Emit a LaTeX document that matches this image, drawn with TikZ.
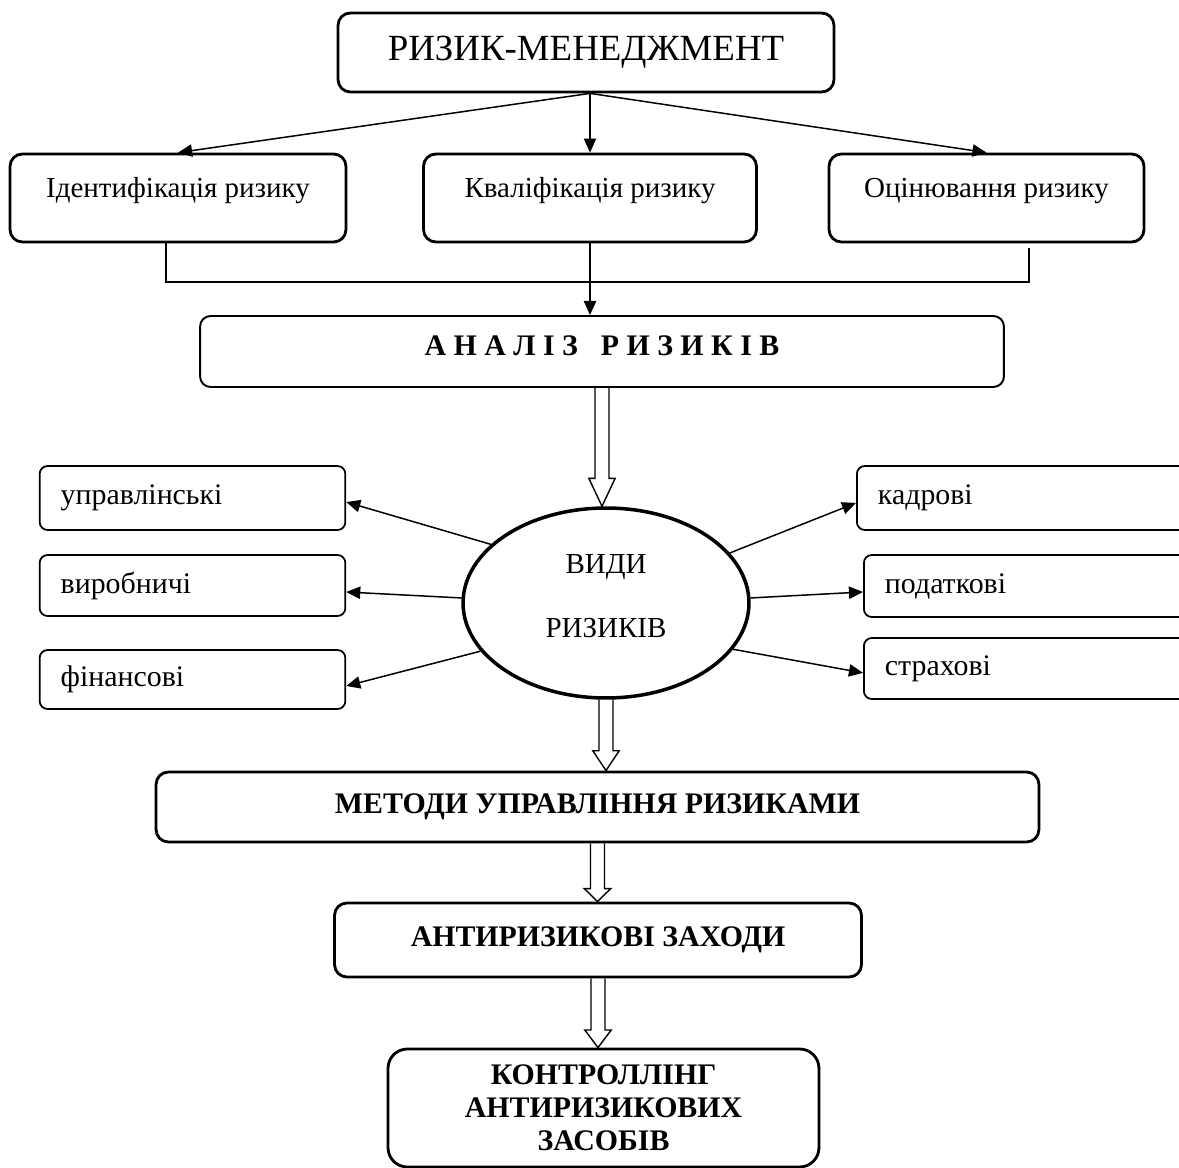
\documentclass[tikz,border=0pt]{standalone}
\usepackage{fontspec}
\setmainfont{Liberation Serif}
\usetikzlibrary{shapes.geometric, arrows.meta, calc}

\newcommand{\bigsize}{\fontsize{21}{25}\selectfont}
\newcommand{\midsize}{\fontsize{16.5}{20}\selectfont}
\newcommand{\smallsize}{\fontsize{17}{20}\selectfont}
\newcommand{\boldsize}{\fontsize{17}{18.7}\selectfont\bfseries}

\tikzset{
  mainbox/.style={rectangle, draw=black, line width=1.6pt, rounded corners=7pt,
    align=center, inner sep=0pt},
  stagebox/.style={mainbox, minimum height=1.76cm, font=\midsize,
    text height=12pt, text depth=13pt},
  analysisbox/.style={rectangle, draw=black, line width=1.1pt, rounded corners=6pt,
    minimum width=16.08cm, minimum height=1.42cm, inner sep=0pt,
    font=\boldsize, text height=12pt, text depth=8pt},
  riskbox/.style={rectangle, draw=black, line width=1pt, rounded corners=4.5pt,
    inner xsep=12pt, inner ysep=0pt, text width=150pt, align=left, font=\smallsize},
  typesell/.style={ellipse, draw=black, line width=2pt, minimum width=5.72cm,
    minimum height=3.8cm, inner sep=0pt, align=center, font=\midsize, text depth=8pt},
  lowbox/.style={mainbox, font=\boldsize},
  onelinebox/.style={lowbox, text height=12pt, text depth=4.5pt},
  arrow/.style={-{Triangle[length=8pt, width=7pt]}, line width=0.85pt},
  line/.style={line width=0.7pt},
  fatline/.style={line width=0.8pt, line join=miter}
}

\newcommand{\fatarrow}[3]{%
  \draw[fatline] let \p1=(#1.south), \p2=(#2.north) in
    (\x1-4pt,\y1) -- (\x1-4pt,\y2+#3) -- (\x1-7.5pt,\y2+#3) -- (\x1,\y2)
    -- (\x1+7.5pt,\y2+#3) -- (\x1+4pt,\y2+#3) -- (\x1+4pt,\y1);
}

\begin{document}
\begin{tikzpicture}[x=0.02cm, y=-0.02cm]
  % page
  \useasboundingbox (0,0) rectangle (1179,1168);
  \clip (0,0) rectangle (1179,1168);
  \fill[white] (0,0) rectangle (1179,1168);

  % risk management
  \node[mainbox, minimum width=9.92cm, minimum height=1.58cm, font=\bigsize] (rm) at (586,52.5) {РИЗИК-МЕНЕДЖМЕНТ};

  % stages
  \node[stagebox, minimum width=6.72cm] (ident) at (178,198) {Ідентифікація ризику};
  \node[stagebox, minimum width=6.66cm] (kval) at (590,198) {Кваліфікація ризику};
  \node[stagebox, minimum width=6.3cm] (ocin) at (986.5,198) {Оцінювання ризику};

  \draw[arrow] (rm.south -| kval.north) -- (ident.north);
  \draw[arrow] (rm.south -| kval.north) -- (kval.north);
  \draw[arrow] (rm.south -| kval.north) -- (ocin.north);

  % analysis
  \node[analysisbox] (analiz) at (602,351.5) {А Н А Л І З\hspace{13pt}Р И З И К І В};

  \coordinate (jl) at (166,282);
  \coordinate (jr) at (1029,282);
  \coordinate (jrtop) at (1029,248);
  \draw[line] (jl |- ident.south) -- (jl) -- (jr) -- (jrtop);
  \draw[arrow] (kval.south) -- (analiz.north -| kval.south);

  % kinds of risk
  \node[typesell] (vid) at (606,603) {ВИДИ\\[16pt]РИЗИКІВ};
  \fatarrow{analiz}{vid}{15.9pt}

  \node[riskbox, minimum height=1.28cm] (upr) at (192.5,498) {управлінські};
  \node[riskbox, minimum height=1.22cm] (vyr) at (192.5,585.5) {виробничі};
  \node[riskbox, minimum height=1.18cm] (fin) at (192.5,679.5) {фінансові};

  \node[riskbox, text width=214pt, anchor=west, minimum height=1.28cm] (kadr) at (856,498) {кадрові};
  \node[riskbox, text width=214pt, anchor=west, minimum height=1.24cm] (podat) at (863,586) {податкові};
  \node[riskbox, text width=214pt, anchor=west, minimum height=1.22cm] (strakh) at (863,668.5) {страхові};

  \draw[arrow] (vid.153) -- ([yshift=-2.3pt]upr.east);
  \draw[arrow] (vid.178) -- ([yshift=-3.7pt]vyr.east);
  \draw[arrow] (vid.201) -- ([yshift=-3.7pt]fin.east);
  \draw[arrow] (vid.22) -- ([yshift=-2.8pt]kadr.west);
  \draw[arrow] (vid.2) -- ([yshift=-3.4pt]podat.west);
  \draw[arrow] (vid.340) -- ([yshift=-2.5pt]strakh.west);

  % methods and measures
  \node[onelinebox, minimum width=17.66cm, minimum height=1.4cm] (metody) at (597.5,807) {МЕТОДИ УПРАВЛІННЯ РИЗИКАМИ};
  \fatarrow{vid}{metody}{11.3pt}

  \node[onelinebox, minimum width=10.54cm, minimum height=1.48cm] (antyr) at (598,940) {АНТИРИЗИКОВІ ЗАХОДИ};
  \fatarrow{metody}{antyr}{7.4pt}

  \node[lowbox, rounded corners=11pt, minimum width=8.62cm, minimum height=2.36cm] (kontr) at (603.5,1108) {КОНТРОЛЛІНГ\\АНТИРИЗИКОВИХ\\ЗАСОБІВ};
  \fatarrow{antyr}{kontr}{10pt}
\end{tikzpicture}
\end{document}
